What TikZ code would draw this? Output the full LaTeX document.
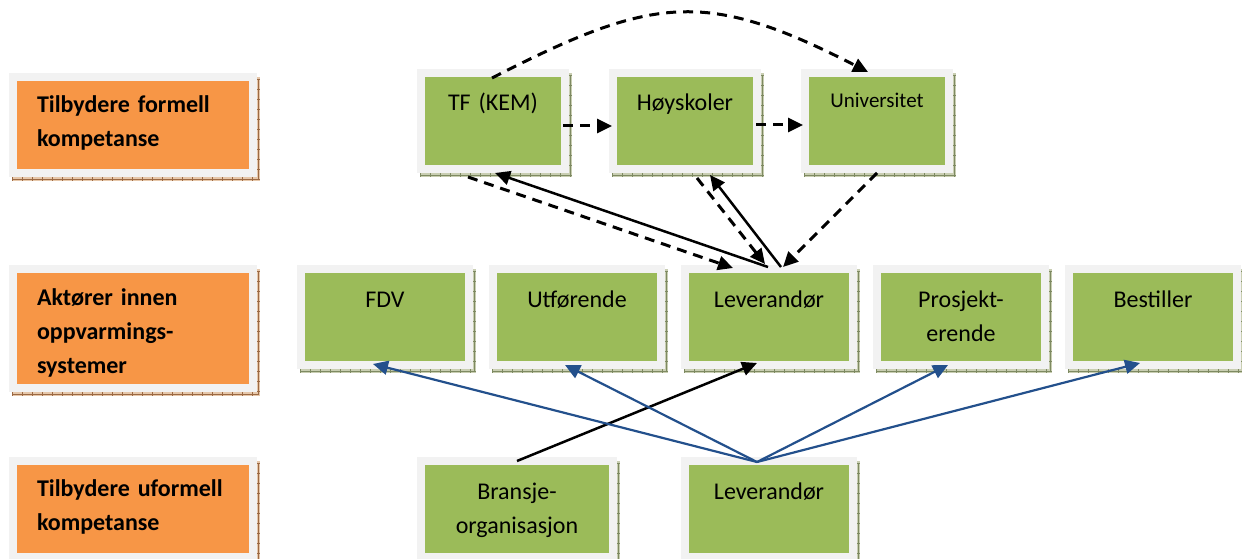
\documentclass[tikz,border=0pt]{standalone}
\usepackage{fontspec}
\setmainfont{Carlito}
\usetikzlibrary{arrows.meta,calc}
\pgfdeclarelayer{background}
\pgfsetlayers{background,main}
\definecolor{boxorange}{HTML}{F79646}
\definecolor{boxgreen}{HTML}{9BBB59}
\definecolor{framegray}{HTML}{F2F2F2}
\definecolor{arrowblue}{HTML}{23508C}
\definecolor{shgreen}{HTML}{C9CEB2}
\definecolor{shgreendark}{HTML}{7E8A62}
\definecolor{shorange}{HTML}{E6C7AA}
\definecolor{shorangedark}{HTML}{9C6A44}
\begin{document}
\begin{tikzpicture}[x=1pt,y=-1pt,
  box/.style={draw=framegray, line width=8pt, outer sep=0pt, inner sep=0pt,
    font=\fontsize{24}{34}\selectfont},
  greenbox/.style={box, fill=boxgreen, align=center, minimum width=#1,
    text width=#1, minimum height=96pt, text height=38pt, text depth=58pt},
  greenbox/.default=168,
  orangebox/.style={box, fill=boxorange, align=left, inner xsep=24pt,
    text width=192pt, minimum height=#1, text height=36pt, text depth=#1-36pt,
    font=\fontsize{24}{34}\selectfont\bfseries},
  orangebox/.default=96,
  arr/.style={-{Triangle[length=15pt,width=14pt]}},
  dasharr/.style={arr, line width=3pt, dash pattern=on 10pt off 7pt},
  solidarr/.style={arr, line width=2.5pt},
  bluearr/.style={arr, line width=2.2pt, draw=arrowblue, fill=arrowblue},
]
\useasboundingbox (0,0) rectangle (1242,559);

% row labels
\node[orangebox] (o1) at (133,125) {Tilbydere formell\\kompetanse};
\node[orangebox=119] (o2) at (133,328.5) {Aktører innen\\oppvarmings-\\systemer};
\node[orangebox] (o3) at (133,508.5) {Tilbydere uformell\\kompetanse};

% formal providers
\node[greenbox=144] (tf) at (493,121) {TF (KEM)};
\node[greenbox=144] (hoy) at (685,121) {Høyskoler};
\node[greenbox=144, font=\fontsize{21}{30}\selectfont, text height=35pt, text depth=61pt] (uni) at (877,121) {Universitet};

% actors
\node[greenbox] (fdv) at (385,317) {FDV};
\node[greenbox] (utf) at (577,317) {Utførende};
\node[greenbox] (lev) at (769,317) {Leverandør};
\node[greenbox] (pro) at (961,317) {Prosjekt-\\erende};
\node[greenbox] (bes) at (1153,317) {Bestiller};

% informal providers
\node[greenbox=192] (bra) at (517,509) {Bransje-\\organisasjon};
\node[greenbox] (lev2) at (769,509) {Leverandør};

% ruled drop shadows
\begin{pgfonlayer}{background}
\foreach \n/\c in {tf/shgreen,hoy/shgreen,uni/shgreen,fdv/shgreen,utf/shgreen,lev/shgreen,
    pro/shgreen,bes/shgreen,bra/shgreen,lev2/shgreen,o1/shorange,o2/shorange,o3/shorange}{
  \fill[\c] ($(\n.south west)+(-1,8)$) rectangle ($(\n.north east)+(7,0)$);
  \draw[\c dark, line width=4pt, dash pattern=on 0.7pt off 9.3pt]
    ($(\n.south west)+(-1,6)$) -- ($(\n.south east)+(7,6)$);
  \draw[\c dark, line width=3pt, dash pattern=on 0.7pt off 9.3pt]
    ($(\n.north east)+(5.5,2)$) -- ($(\n.south east)+(5.5,8)$);
  \draw[\c dark, line width=0.7pt]
    ($(\n.south west)+(-1,6)$) -- ($(\n.south east)+(5.5,6)$) -- ($(\n.north east)+(5.5,2)$);
}
\end{pgfonlayer}

% links between formal providers
\draw[dasharr] ($(tf.north)+(-1,5)$) .. controls (654,-5) and (706,-11) .. ($(uni.north)+(-9,-1)$);
\draw[dasharr] ($(tf.east)+(-2,5)$) -- ($(hoy.west)+(-1,5)$);
\draw[dasharr] ($(hoy.east)+(-1,4)$) -- ($(uni.west)+(-2,4)$);

% links between providers and the supplier
\draw[dasharr] ($(uni.south)+(0,4)$) -- ($(lev.north)+(14,-2)$);
\draw[dasharr] ($(tf.south)+(-25,8)$) -- ($(lev.north)+(-36,-1)$);
\draw[solidarr] ($(lev.north)+(-1,-2)$) -- ($(tf.south)+(2,4)$);
\draw[dasharr] ($(hoy.south)+(12,9)$) -- ($(lev.north)+(-4,-5)$);
\draw[solidarr] ($(lev.north)+(12,-2)$) -- ($(hoy.south)+(25,6)$);

% informal providers
\draw[solidarr] (bra.north) -- ($(lev.south)+(-12,-2)$);
\coordinate (apex) at ($(lev2.north)+(-12,1)$);
\draw[bluearr] (apex) -- ($(fdv.south)+(-12,-1)$);
\draw[bluearr] (apex) -- ($(utf.south)+(-12,0)$);
\draw[bluearr] (apex) -- ($(pro.south)+(-13,0)$);
\draw[bluearr] (apex) -- ($(bes.south)+(-13,-2)$);
\end{tikzpicture}
\end{document}
